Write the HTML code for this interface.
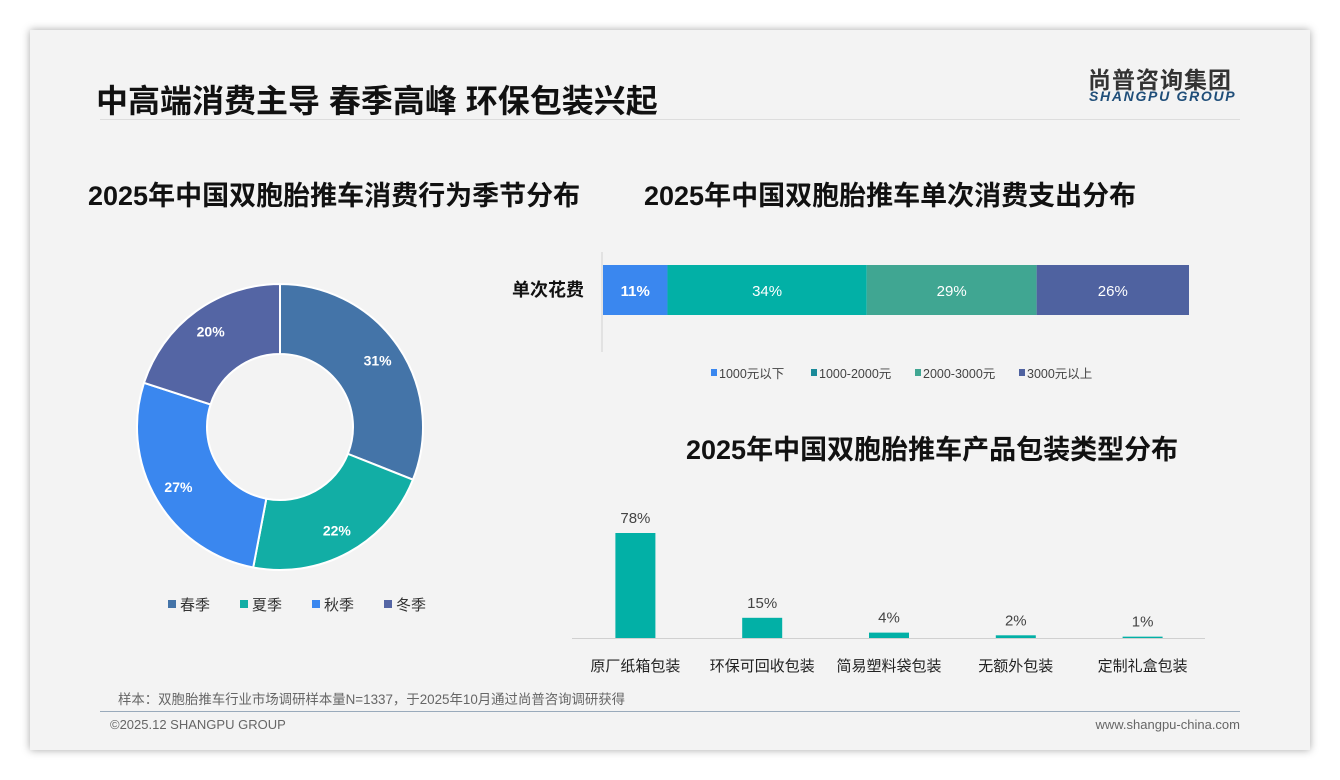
<!DOCTYPE html>
<html><head><meta charset="utf-8">
<style>
body{margin:0;width:1340px;height:780px;background:#fff;font-family:"Liberation Sans","Noto Sans CJK SC",sans-serif;position:relative;overflow:hidden}
.card{position:absolute;left:30px;top:30px;width:1280px;height:720px;background:#f3f3f3;box-shadow:0 0 8px rgba(0,0,0,.35)}
.abs{position:absolute;white-space:nowrap}
</style></head><body>
<div class="card"></div>
<div class="abs" style="left:96px;top:76px;font-size:32px;font-weight:bold;color:#111">中高端消费主导 春季高峰 环保包装兴起</div>
<div class="abs" style="left:100px;top:119px;width:1140px;height:1px;background:#ddd"></div>
<div class="abs" style="left:1088px;top:61px;font-size:23px;font-weight:bold;color:#333;letter-spacing:1px">尚普咨询集团</div>
<div class="abs" style="left:1089px;top:88px;font-size:14px;font-weight:bold;font-style:italic;color:#1f4e79;letter-spacing:1.7px">SHANGPU GROUP</div>
<div class="abs" style="left:88px;top:174px;font-size:27px;font-weight:bold;color:#111">2025年中国双胞胎推车消费行为季节分布</div>
<div class="abs" style="left:644px;top:174px;font-size:27px;font-weight:bold;color:#111">2025年中国双胞胎推车单次消费支出分布</div>
<div class="abs" style="left:686px;top:428px;font-size:27px;font-weight:bold;color:#111">2025年中国双胞胎推车产品包装类型分布</div>
<svg id="chart" width="1340" height="780" style="position:absolute;left:0;top:0"></svg>
<div class="abs" style="left:118px;top:688px;font-size:13.4px;color:#666">样本：双胞胎推车行业市场调研样本量N=1337，于2025年10月通过尚普咨询调研获得</div>
<div class="abs" style="left:100px;top:711px;width:1140px;height:1px;background:#9ab"></div>
<div class="abs" style="left:110px;top:717px;font-size:13px;color:#666">©2025.12 SHANGPU GROUP</div>
<div class="abs" style="right:100px;top:717px;font-size:13px;color:#666">www.shangpu-china.com</div>
<script>
const seasonLabels=["春季","夏季","秋季","冬季"];
const seasonValues=[31,22,27,20];
const seasonColors=["#4474a8","#12aea5","#3a87ef","#5465a4"];
const spendLabels=["1000元以下","1000-2000元","2000-3000元","3000元以上"];
const spendValues=[11,34,29,26];
const spendColors=["#3a87ef","#02b0a6","#40a692","#4f62a0"];
const legendColors=["#3a87ef","#1a8a99","#40a692","#4f62a0"];
const packLabels=["原厂纸箱包装","环保可回收包装","简易塑料袋包装","无额外包装","定制礼盒包装"];
const packValues=[78,15,4,2,1];
const svg=document.getElementById('chart');const NS="http://www.w3.org/2000/svg";
function mk(t,a,p){const e=document.createElementNS(NS,t);for(const k in a)e.setAttribute(k,a[k]);(p||svg).appendChild(e);return e;}
function tx(x,y,s,a){const e=mk('text',Object.assign({x:x,y:y,'font-family':'Liberation Sans, Noto Sans CJK SC, sans-serif'},a));e.textContent=s;return e;}
// donut
const cx=280,cy=427,R=143,r=73;let tot=seasonValues.reduce((a,b)=>a+b,0),acc=0;
seasonValues.forEach((v,i)=>{const a0=acc/tot*2*Math.PI,a1=(acc+v)/tot*2*Math.PI;acc+=v;
const p=(a,rr)=>[cx+rr*Math.sin(a),cy-rr*Math.cos(a)];const [x0,y0]=p(a0,R),[x1,y1]=p(a1,R),[x2,y2]=p(a1,r),[x3,y3]=p(a0,r);const lg=(a1-a0)>Math.PI?1:0;
const s=mk('path',{d:`M${x0},${y0}A${R},${R} 0 ${lg} 1 ${x1},${y1}L${x2},${y2}A${r},${r} 0 ${lg} 0 ${x3},${y3}Z`,fill:seasonColors[i],stroke:'#fff','stroke-width':2});


const [lx,ly]=p((a0+a1)/2,(R+r)/2+10);const t=tx(lx,ly+5,v+'%',{'text-anchor':'middle','font-size':14,'font-weight':'bold',fill:'#fff'});

});
seasonLabels.forEach((l,i)=>{const x=168+i*72;const m=mk('rect',{x:x,y:600,width:8,height:8,fill:seasonColors[i]});


const t=tx(x+12,610,l,{'font-size':15,fill:'#333'});

});
// stacked bar
const bx0=603,bw=586,by=265,bh=50;let ac=0;
mk('line',{x1:602,y1:252,x2:602,y2:352,stroke:'#d0d0d0'});
const yl=tx(584,296,'单次花费',{'text-anchor':'end','font-size':18,'font-weight':'bold',fill:'#111'});
spendValues.forEach((v,i)=>{const x=bx0+ac/100*bw,w=v/100*bw;ac+=v;
const s=mk('rect',{x:x,y:by,width:w,height:bh,fill:spendColors[i]});


const t=tx(x+w/2,by+31,v+'%',{'text-anchor':'middle','font-size':15,fill:'#fff','font-weight':i==0?'bold':'normal'});

});
const lx=[711,811,915,1019];
spendLabels.forEach((l,i)=>{const m=mk('rect',{x:lx[i],y:369,width:6,height:7,fill:legendColors[i]});


const t=tx(lx[i]+8,378,l,{'font-size':12.5,fill:'#444'});

});
// bar chart
const base=638,sc=105/78,bwid=40,x0=572,step=126.8;
mk('line',{x1:572,y1:638.5,x2:1205,y2:638.5,stroke:'#d0d0d0'});
packValues.forEach((v,i)=>{const c=x0+step*(i+0.5);const h=v*sc;
const b=mk('rect',{x:c-bwid/2,y:base-h,width:bwid,height:h,fill:'#02b0a6'});


const t=tx(c,base-h-10,v+'%',{'text-anchor':'middle','font-size':15,fill:'#444'});


const c2=tx(c,671,packLabels[i],{'text-anchor':'middle','font-size':15,fill:'#222'});

});
</script>
</body></html>
